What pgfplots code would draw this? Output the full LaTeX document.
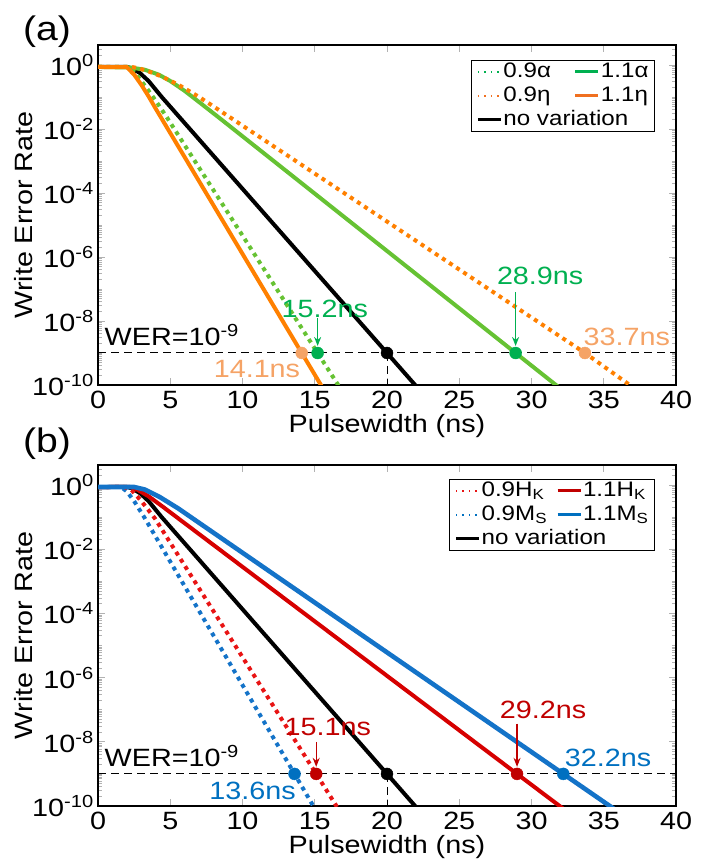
\documentclass[border=0pt]{standalone}
\usepackage{pgfplots}
\pgfplotsset{compat=1.18}
\usepackage{fontspec}
\setmainfont{Liberation Sans}[FakeStretch=1.15]
\usetikzlibrary{arrows.meta}
\newcommand{\ft}{\fontsize{25}{30}\selectfont}
\newcommand{\lgf}{\fontsize{21}{24}\selectfont}
\newcommand{\pf}{\fontsize{34}{40}\selectfont}
\definecolor{glin}{RGB}{102,194,51}
\definecolor{gmk}{RGB}{0,176,80}
\definecolor{olin}{RGB}{255,128,0}
\definecolor{olg}{RGB}{240,112,32}
\definecolor{omk}{RGB}{245,163,102}
\definecolor{rdot}{RGB}{232,20,20}
\definecolor{rsol}{RGB}{214,0,0}
\definecolor{rmk}{RGB}{192,0,0}
\definecolor{blin}{RGB}{20,115,200}
\definecolor{bmk}{RGB}{0,112,192}
\tikzset{
  dotl/.style={line width=4pt, dash pattern=on 4pt off 4.5pt},
  soll/.style={line width=4pt},
  ldots/.style={line width=1.4pt, dash pattern=on 1.4pt off 5pt},
  lsol/.style={line width=3pt},
  wline/.style={black, line width=1pt, dash pattern=on 8pt off 5pt},
  arr/.style={line width=1.2pt, -{Stealth[length=9pt,width=7pt]}},
}
\pgfplotsset{
  every axis/.append style={
    scale only axis, width=578pt,
    xmin=0, xmax=40, ymin=1e-10, ymax=4.22,
    xtick={0,5,...,40}, xticklabels={0,5,10,15,20,25,30,35,40},
    ytick={1e-10,1e-8,1e-6,1e-4,1e-2,1},
    yticklabels={10\textsuperscript{-10},10\textsuperscript{-8},10\textsuperscript{-6},10\textsuperscript{-4},10\textsuperscript{-2},10\textsuperscript{0}},
    minor ytick={1e-9,1e-7,1e-5,1e-3,1e-1,
      2e-10,3e-10,4e-10,5e-10,6e-10,7e-10,8e-10,9e-10,
      2e-9,3e-9,4e-9,5e-9,6e-9,7e-9,8e-9,9e-9,
      2e-8,3e-8,4e-8,5e-8,6e-8,7e-8,8e-8,9e-8,
      2e-7,3e-7,4e-7,5e-7,6e-7,7e-7,8e-7,9e-7,
      2e-6,3e-6,4e-6,5e-6,6e-6,7e-6,8e-6,9e-6,
      2e-5,3e-5,4e-5,5e-5,6e-5,7e-5,8e-5,9e-5,
      2e-4,3e-4,4e-4,5e-4,6e-4,7e-4,8e-4,9e-4,
      2e-3,3e-3,4e-3,5e-3,6e-3,7e-3,8e-3,9e-3,
      2e-2,3e-2,4e-2,5e-2,6e-2,7e-2,8e-2,9e-2,
      2e-1,3e-1,4e-1,5e-1,6e-1,7e-1,8e-1,9e-1,2,3,4},
    tick align=inside,
    tick style={gray!60, line width=0.8pt},
    major tick length=7pt, minor tick length=4pt,
    axis line style={line width=1.6pt},
    tick label style={font=\ft, inner sep=0pt},
    xticklabel style={anchor=north, yshift=-6pt},
    yticklabel style={anchor=east, xshift=-4pt},
    xlabel={Pulsewidth (ns)}, ylabel={Write Error Rate},
    label style={font=\ft, inner sep=0pt},
    xlabel style={at={(axis description cs:0.5,-0.085)}, anchor=north},
    ylabel style={at={(axis description cs:-0.128,0.5)}, anchor=center},
    legend columns=2, legend cell align=left,
  },
}
\begin{document}
\begin{tikzpicture}
\path[use as bounding box] (0pt,0pt) rectangle (712pt,861pt);
\node[font=\pf] at (47pt,829pt) {(a)};
\node[font=\pf] at (47pt,417pt) {(b)};
% ---------------- panel (a)
\begin{semilogyaxis}[height=340pt, at={(98pt,476pt)}, anchor=south west,
  legend image code/.code={\draw[#1] (0pt,0pt) -- (23pt,0pt);},
  legend style={draw=black, line width=1pt, font=\lgf, anchor=north east,
      at={(0.9637,0.956)}, inner xsep=5pt, inner ysep=1pt, row sep=3pt,
      nodes={inner sep=1pt, text height=15pt, text depth=4pt},
      /tikz/every even column/.append style={column sep=22pt}}]
\addlegendimage{gmk, ldots}\addlegendentry{0.9α}
\addlegendimage{gmk, lsol}\addlegendentry{1.1α}
\addlegendimage{olg, ldots}\addlegendentry{0.9η}
\addlegendimage{olg, lsol}\addlegendentry{1.1η}
\addlegendimage{black, lsol}\addlegendentry{\rlap{no variation}}
\addplot[wline, forget plot] coordinates {(0,1e-9) (40,1e-9)};
\addplot[wline, forget plot] coordinates {(20,1e-9) (20,1e-10)};
% no variation
\addplot[black, soll, forget plot] coordinates {(0,0.87) (2.0,0.871) (2.33,0.794) (2.9,0.562) (3.5,0.316) (4.41,0.1) (20,1e-9) (22.5,5.2e-11)};
% 0.9 alpha
\addplot[glin, dotl, forget plot] coordinates {(0,0.87) (2.0,0.871) (2.5,0.603) (3.0,0.316) (3.5,0.158) (4.0,0.0759) (4.8,0.0219) (15.2,1e-9) (17,5.4e-11)};
% 1.1 alpha
\addplot[glin, soll, forget plot] coordinates {(0,0.87) (2.3,0.832) (3.25,0.708) (4.2,0.501) (5.0,0.316) (6.0,0.155) (7.0,0.0692) (8.5,0.0204) (28.9,1e-9) (33,3.4e-11)};
% 0.9 eta
\addplot[olin, dotl, forget plot] coordinates {(0,0.87) (2.3,0.871) (2.8,0.794) (3.5,0.631) (4.41,0.437) (5.5,0.251) (7.0,0.1) (9.02,0.0251) (33.7,1e-9) (38,4.1e-11)};
% 1.1 eta
\addplot[olin, soll, forget plot] coordinates {(0,0.87) (2.0,0.851) (2.5,0.501) (3.0,0.24) (3.5,0.105) (4.0,0.0427) (14.1,1e-9) (16,3.7e-11)};
% markers
\addplot[only marks, mark=*, mark size=6pt, omk, forget plot] coordinates {(14.1,1e-9) (33.7,1e-9)};
\addplot[only marks, mark=*, mark size=6pt, gmk, forget plot] coordinates {(15.2,1e-9) (28.9,1e-9)};
\addplot[only marks, mark=*, mark size=6pt, black, forget plot] coordinates {(20,1e-9)};
\addplot[gmk, arr, forget plot] coordinates {(15.2,1.26e-8) (15.2,1.66e-9)};
\addplot[gmk, arr, forget plot] coordinates {(28.9,7.9e-8) (28.9,1.66e-9)};
\node[font=\ft, text=gmk] at (axis cs:15.7,2.4e-8) {15.2ns};
\node[font=\ft, text=gmk] at (axis cs:30.6,2.63e-7) {28.9ns};
\node[font=\ft, text=omk] at (axis cs:11.0,3.16e-10) {14.1ns};
\node[font=\ft, text=omk] at (axis cs:36.6,3.16e-9) {33.7ns};
\node[font=\ft, anchor=base west, inner sep=0pt] at (axis cs:0.45,1.7e-9) {WER=10\textsuperscript{-9}};
\end{semilogyaxis}
% ---------------- panel (b)
\begin{semilogyaxis}[height=341pt, at={(98pt,55pt)}, anchor=south west,
  legend image code/.code={\draw[#1] (0pt,0pt) -- (23pt,0pt);},
  legend style={draw=black, line width=1pt, font=\lgf, anchor=north east,
      at={(0.9637,0.959)}, inner xsep=5pt, inner ysep=1pt, row sep=3pt,
      nodes={inner sep=1pt, text height=15pt, text depth=4pt},
      /tikz/every even column/.append style={column sep=8pt}}]
\addlegendimage{rdot, ldots}\addlegendentry{0.9H\textsubscript{K}}
\addlegendimage{rmk, lsol}\addlegendentry{1.1H\textsubscript{K}}
\addlegendimage{bmk, ldots}\addlegendentry{0.9M\textsubscript{S}}
\addlegendimage{bmk, lsol}\addlegendentry{1.1M\textsubscript{S}}
\addlegendimage{black, lsol}\addlegendentry{\rlap{no variation}}
\addplot[wline, forget plot] coordinates {(0,1e-9) (40,1e-9)};
\addplot[wline, forget plot] coordinates {(20,1e-9) (20,1e-10)};
% no variation
\addplot[black, soll, forget plot] coordinates {(0,0.87) (2.0,0.871) (2.33,0.794) (2.9,0.562) (3.5,0.316) (4.41,0.1) (20,1e-9) (22.5,5.2e-11)};
% 0.9 Ms
\addplot[blin, dotl, forget plot] coordinates {(0,0.87) (1.6,0.871) (2.0,0.631) (2.5,0.316) (3.25,0.0912) (13.6,1e-9) (15.3,4.9e-11)};
% 0.9 Hk
\addplot[rdot, dotl, forget plot] coordinates {(0,0.87) (1.8,0.871) (2.33,0.692) (3.0,0.316) (3.94,0.0912) (15.1,1e-9) (16.8,6.1e-11)};
% 1.1 Hk
\addplot[rsol, soll, forget plot] coordinates {(0,0.87) (2.2,0.871) (2.56,0.794) (3.5,0.447) (4.5,0.209) (5.56,0.0912) (29,1e-9) (33,4.4e-11)};
% 1.1 Ms
\addplot[blin, line width=4.6pt, forget plot] coordinates {(0,0.87) (2.5,0.871) (3.25,0.724) (4.3,0.417) (5.56,0.186) (32.2,1e-9) (36,6.6e-11)};
% markers
\addplot[only marks, mark=*, mark size=6pt, bmk, forget plot] coordinates {(13.6,1e-9) (32.2,1e-9)};
\addplot[only marks, mark=*, mark size=6pt, rmk, forget plot] coordinates {(15.1,1e-9) (29.0,1e-9)};
\addplot[only marks, mark=*, mark size=6pt, black, forget plot] coordinates {(20,1e-9)};
\addplot[rmk, arr, forget plot] coordinates {(15.1,1e-8) (15.1,1.66e-9)};
\addplot[rmk, arr, forget plot] coordinates {(29.0,3.7e-8) (29.0,1.66e-9)};
\node[font=\ft, text=rmk] at (axis cs:15.9,2.95e-8) {15.1ns};
\node[font=\ft, text=rmk] at (axis cs:30.8,1.02e-7) {29.2ns};
\node[font=\ft, text=bmk] at (axis cs:10.7,3.0e-10) {13.6ns};
\node[font=\ft, text=bmk] at (axis cs:35.3,3.16e-9) {32.2ns};
\node[font=\ft, anchor=base west, inner sep=0pt] at (axis cs:0.45,1.7e-9) {WER=10\textsuperscript{-9}};
\end{semilogyaxis}
\end{tikzpicture}
\end{document}
